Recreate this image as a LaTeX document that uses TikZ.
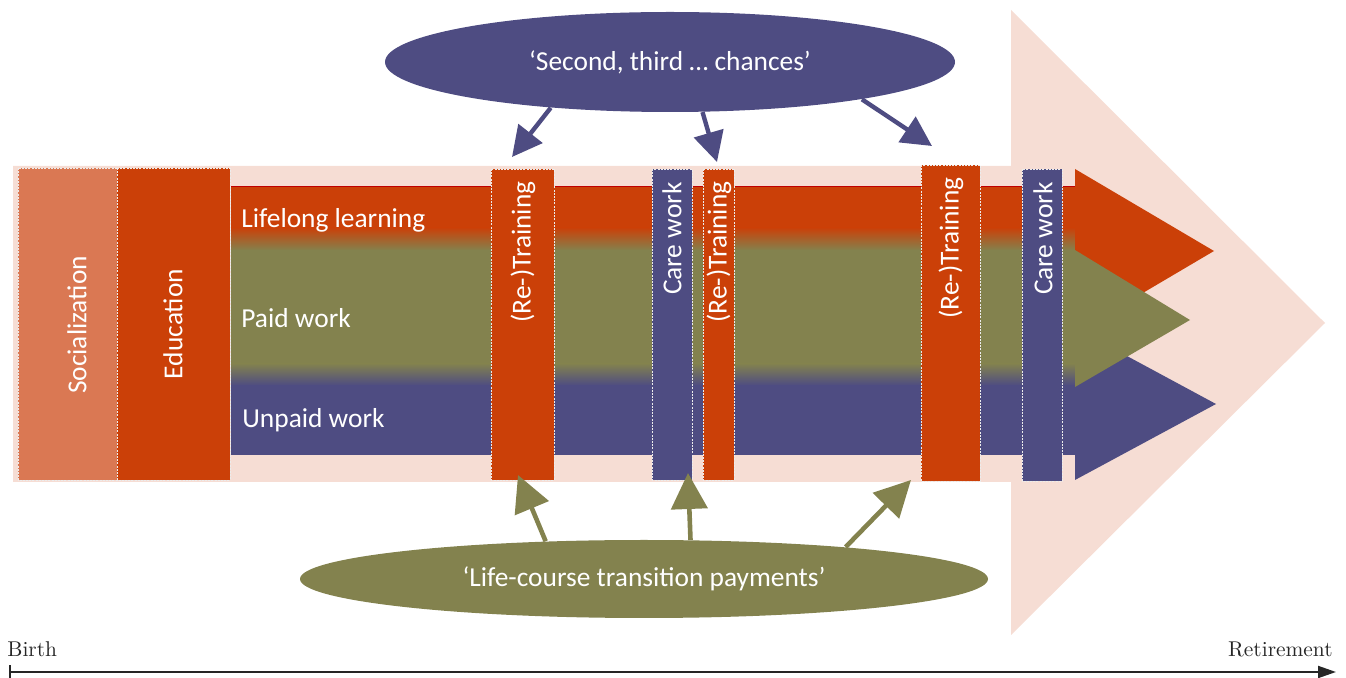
\documentclass[tikz,border=0pt]{standalone}
\usepackage{fontspec}
\usepackage{tikz}
\usetikzlibrary{arrows.meta,shapes.geometric}
\newfontfamily\calibri{Carlito}
\newcommand\boxfont{\calibri\fontsize{13.7}{16}\selectfont}
\newcommand\axisfont{\fontsize{10.7}{13}\selectfont}
\definecolor{paleback}{RGB}{246,221,212}
\definecolor{socialbox}{RGB}{218,120,83}
\definecolor{eduorange}{RGB}{203,64,8}
\definecolor{paidolive}{RGB}{131,130,78}
\definecolor{carepurple}{RGB}{78,76,130}
\definecolor{linered}{RGB}{192,0,0}

\begin{document}
\begin{tikzpicture}[line cap=round,line join=round,x=0.5pt,y=-0.5pt,
    stripbox/.style={draw=white!85!gray,dash pattern=on 1pt off 0.6pt,line width=0.25pt,line cap=butt},
    rotlabel/.style={text=white,rotate=90,inner sep=0pt,font=\boxfont},
    bandlabel/.style={text=white,anchor=base west,inner sep=0pt,font=\boxfont},
    bubble/.style={ellipse,inner sep=0pt,text=white,font=\boxfont},
    chancearrow/.style={draw=carepurple,line width=2.2pt,line cap=butt,-{Triangle[length=15pt,width=15pt]}},
    payarrow/.style={draw=paidolive,line width=2.3pt,line cap=butt,-{Triangle[length=18pt,width=18pt]}},
    timeline/.style={draw=black!85,line width=1pt,line cap=butt,{Bar[width=7pt]}-{Triangle[length=9pt,width=6pt]}}]
    % \clip (0,0) rectangle (1346,678);
    \useasboundingbox (0,0) rectangle (1346,678);
    \fill[paleback] (13,166) -- (1011,166) -- (1011,10) -- (1325,323) -- (1011,635) -- (1011,482) -- (13,482) -- cycle;
    % life course bands
    \fill[eduorange] (231,186) rectangle (1075,228);
    \shade[top color=eduorange,bottom color=paidolive] (231,227.5) rectangle (1075,250.5);
    \fill[paidolive] (231,250) rectangle (1075,364);
    \shade[top color=paidolive,bottom color=carepurple] (231,363.5) rectangle (1075,385.5);
    \fill[carepurple] (231,385) rectangle (1075,455);
    \draw[linered,line width=0.6pt,line cap=butt] (231,186.3) -- (1075,186.3);
    \fill[eduorange] (1075,169) -- (1214,251) -- (1075,333) -- cycle;
    \fill[carepurple] (1075,328) -- (1216,404) -- (1075,480) -- cycle;
    \fill[paidolive] (1075,250) -- (1190,320) -- (1075,387) -- cycle;
    % stages
    \path[stripbox,fill=socialbox] (18,168) rectangle (117,480);
    \path[stripbox,fill=eduorange] (117,168) rectangle (230,480);
    \path[stripbox,fill=eduorange] (491,169) rectangle (554,480);
    \path[stripbox,fill=carepurple] (652,169) rectangle (692,480);
    \path[stripbox,fill=eduorange] (703,169) rectangle (734,480);
    \path[stripbox,fill=eduorange] (921,165) rectangle (980,481);
    \path[stripbox,fill=carepurple] (1022,169) rectangle (1062,481);
    \node[rotlabel] (social) at (77,325) {Socialization};
    \node[rotlabel] (edu) at (173,324) {Education};
    \node[rotlabel,anchor=east] (trainA) at (523,181) {(Re-)Training};
    \node[rotlabel,anchor=east] (careA) at (672,182) {Care work};
    \node[rotlabel,anchor=east] (trainB) at (719,181) {(Re-)Training};
    \node[rotlabel,anchor=east] (trainC) at (951,177) {(Re-)Training};
    \node[rotlabel,anchor=east] (careB) at (1043,182) {Care work};
    \node[bandlabel] (lifelong) at (241,228) {Lifelong learning};
    \node[bandlabel] (paid) at (241,328) {Paid work};
    \node[bandlabel] (unpaid) at (242,428) {Unpaid work};
    % chances and payments
    \node[bubble,fill=carepurple,minimum width=285pt,minimum height=50pt] (chances) at (670,62) {‘Second, third … chances’};
    \node[bubble,fill=paidolive,minimum width=344pt,minimum height=39pt] (payments) at (644,579) {‘Life-course transition payments’};
    \coordinate (tipA) at (512,157);
    \coordinate (tipB) at (717,162);
    \coordinate (tipC) at (932,146);
    \coordinate (footA) at (518,475);
    \coordinate (footB) at (688,473);
    \coordinate (footC) at (911,480);
    \draw[chancearrow] (chances.201) -- (tipA);
    \draw[chancearrow] (chances.303) -- (tipB);
    \draw[chancearrow] (chances.349) -- (tipC);
    \draw[payarrow] (payments.159) -- (footA);
    \draw[payarrow] (payments.40) -- (footB);
    \draw[payarrow] (payments.9) -- (footC);
    % time axis
    \coordinate (lifestart) at (9,672);
    \coordinate (lifeend) at (1336,672);
    \draw[timeline] (lifestart) -- (lifeend);
    \node[anchor=base west,inner sep=0pt,font=\axisfont,text=black!85] (birth) at (7,657) {Birth};
    \node[anchor=base east,inner sep=0pt,font=\axisfont,text=black!85] (retire) at (1333,657) {Retirement};
\end{tikzpicture}
\end{document}
